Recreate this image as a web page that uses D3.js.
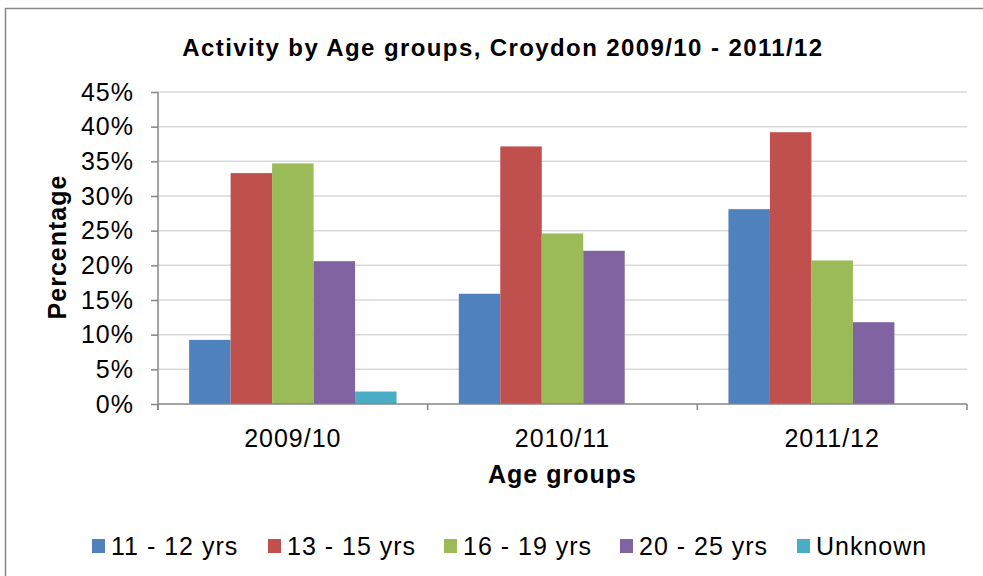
<!DOCTYPE html>
<html>
<head>
<meta charset="utf-8">
<script src="https://cdn.jsdelivr.net/npm/d3@7/dist/d3.min.js"></script>
<style>
  body { margin: 0; background: #fff; }
  text { font-family: "Liberation Sans", Arial, sans-serif; fill: #000; }
</style>
</head>
<body>
<div id="chart"></div>
<script>
// data
const years = ['2009/10', '2010/11', '2011/12'];
const groups = ['11 - 12 yrs', '13 - 15 yrs', '16 - 19 yrs', '20 - 25 yrs', 'Unknown'];
const colors = ['#4F81BD', '#C0504D', '#9BBB59', '#8064A2', '#4BACC6'];
const age11to12 = [9.25, 15.9, 28.1];
const age13to15 = [33.3, 37.15, 39.2];
const age16to19 = [34.7, 24.6, 20.7];
const age20to25 = [20.6, 22.1, 11.8];
const unknown = [1.8, 0, 0];
const yTicks = [0, 5, 10, 15, 20, 25, 30, 35, 40, 45];

const series = [age11to12, age13to15, age16to19, age20to25, unknown];

const W = 983, H = 576;
const plot = { left: 158, right: 967, top: 92, bottom: 404 };
const FONT = '"Liberation Sans", Arial, sans-serif';

const svg = d3.select('#chart').append('svg')
    .attr('width', W)
    .attr('height', H);

// outer chart frame (runs off the right and bottom edge)
svg.append('rect')
    .attr('x', 5.5).attr('y', 8.5)
    .attr('width', W + 20).attr('height', H + 20)
    .attr('fill', 'none')
    .attr('stroke', '#898989')
    .attr('stroke-width', 1.5);

const x0 = d3.scaleBand()
    .domain(years)
    .range([plot.left, plot.right])
    .padding(0);

const x1 = d3.scaleBand()
    .domain(groups)
    .range([0, x0.bandwidth()])
    .paddingInner(0)
    .paddingOuter(0.75);

const y = d3.scaleLinear()
    .domain([0, 45])
    .range([plot.bottom, plot.top]);

// gridlines
svg.append('g')
    .selectAll('line')
    .data(yTicks.filter(d => d > 0))
  .enter().append('line')
    .attr('x1', plot.left).attr('x2', plot.right)
    .attr('y1', d => y(d)).attr('y2', d => y(d))
    .attr('stroke', '#d9d9d9')
    .attr('stroke-width', 1.5);

// bars
const barData = [];
years.forEach((yr, i) => {
    groups.forEach((g, j) => {
        barData.push({ year: yr, group: g, value: series[j][i], color: colors[j] });
    });
});

svg.append('g')
    .selectAll('.bar')
    .data(barData.filter(d => d.value > 0))
  .enter().append('rect')
    .attr('class', 'bar')
    .attr('x', d => x0(d.year) + x1(d.group))
    .attr('width', x1.bandwidth())
    .attr('y', d => y(d.value))
    .attr('height', d => y(0) - y(d.value))
    .attr('fill', d => d.color);

// y axis
const yAxis = svg.append('g')
    .attr('transform', 'translate(' + plot.left + ',0)')
    .call(d3.axisLeft(y).tickValues(yTicks).tickSize(7).tickPadding(17).tickFormat(d => d + '%'));
yAxis.select('.domain').attr('stroke', '#868686').attr('stroke-width', 1.5)
    .attr('d', 'M0,' + plot.top + 'V' + (plot.bottom + 6));
yAxis.selectAll('.tick line').attr('stroke', '#868686').attr('stroke-width', 1.5);
yAxis.selectAll('.tick text')
    .attr('font-size', 25).attr('letter-spacing', 1).attr('font-family', FONT);

// x axis
const xAxis = svg.append('g')
    .attr('transform', 'translate(0,' + plot.bottom + ')')
    .call(d3.axisBottom(x0).tickSize(0).tickPadding(25));
xAxis.select('.domain').remove();
xAxis.append('line')
    .attr('x1', plot.left).attr('x2', plot.right)
    .attr('stroke', '#868686').attr('stroke-width', 1.5);
xAxis.selectAll('.sep')
    .data([plot.left].concat(years.map(d => x0(d) + x0.bandwidth())))
  .enter().append('line')
    .attr('class', 'sep')
    .attr('x1', d => d).attr('x2', d => d)
    .attr('y1', 0).attr('y2', 6)
    .attr('stroke', '#868686').attr('stroke-width', 1.5);
xAxis.selectAll('.tick text')
    .attr('font-size', 25).attr('letter-spacing', 1).attr('font-family', FONT);

// titles
svg.append('text')
    .attr('x', 503).attr('y', 56)
    .attr('text-anchor', 'middle')
    .attr('font-size', 24)
    .attr('letter-spacing', 1.4)
    .attr('font-weight', 'bold')
    .text('Activity by Age groups, Croydon 2009/10 - 2011/12');

svg.append('text')
    .attr('x', (plot.left + plot.right) / 2).attr('y', 483)
    .attr('text-anchor', 'middle')
    .attr('font-size', 25)
    .attr('letter-spacing', 1)
    .attr('font-weight', 'bold')
    .text('Age groups');

svg.append('text')
    .attr('transform', 'translate(66,' + ((plot.top + plot.bottom) / 2 - 1) + ') rotate(-90)')
    .attr('text-anchor', 'middle')
    .attr('font-size', 25)
    .attr('letter-spacing', 1)
    .attr('font-weight', 'bold')
    .text('Percentage');

// legend
const legendX = [92, 268, 444, 620, 797];
const legend = svg.append('g')
    .selectAll('g')
    .data(groups)
  .enter().append('g')
    .attr('transform', (d, i) => 'translate(' + legendX[i] + ',546)');
legend.append('rect')
    .attr('x', 0).attr('y', -7)
    .attr('width', 13).attr('height', 14)
    .attr('fill', (d, i) => colors[i]);
legend.append('text')
    .attr('x', 19).attr('y', 8.5)
    .attr('font-size', 25)
    .attr('letter-spacing', 1)
    .text(d => d);
</script>
</body>
</html>
